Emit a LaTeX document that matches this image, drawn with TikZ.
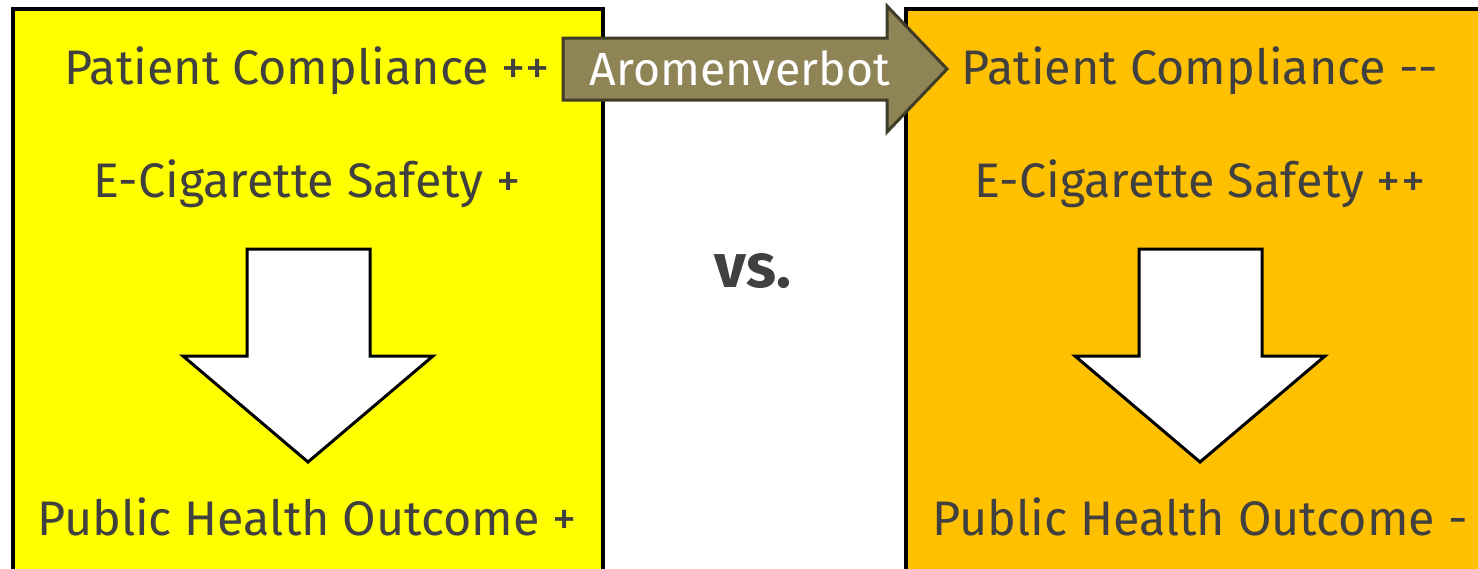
\documentclass[tikz,border=0pt]{standalone}
\usepackage{fontspec}
\setmainfont{Fira Sans}
\definecolor{txt}{HTML}{404040}
\definecolor{boxyellow}{HTML}{FFFF00}
\definecolor{boxorange}{HTML}{FFC000}
\definecolor{olive}{HTML}{8F8455}
\definecolor{olivedark}{HTML}{403C28}
\tikzset{
  panel/.style={draw=black,line width=3.5pt},
  label/.style={text=txt,font=\fontsize{48.5}{52}\selectfont,inner sep=0pt,anchor=base},
  downarrow/.style={draw=black,line width=3pt,fill=white,line join=miter},
}
\begin{document}
\begin{tikzpicture}[x=1pt,y=-1pt]
\useasboundingbox (0,0) rectangle (1478,568);
\clip (0,0) rectangle (1478,568);
\fill[white] (0,0) rectangle (1478,568);
% panels
\draw[panel,fill=boxyellow] (13,9) rectangle (603,600);
\draw[panel,fill=boxorange] (906,9) rectangle (1500,600);
% down arrows
\draw[downarrow] (247,249) -- (370,249) -- (370,356) -- (433,356) -- (308,462) -- (183,356) -- (247,356) -- cycle;
\draw[downarrow] (1139,249) -- (1262,249) -- (1262,356) -- (1325,356) -- (1200,462) -- (1075,356) -- (1139,356) -- cycle;
% texts left
\node[label] (pcl) at (307,84) {Patient Compliance ++};
\node[label] (escl) at (307,197) {E-Cigarette Safety +};
\node[label] (phol) at (307,535) {Public Health Outcome +};
% texts right
\node[label] (pcr) at (1200,84) {Patient Compliance {-}{-}};
\node[label] (escr) at (1200,197) {E-Cigarette Safety ++};
\node[label] (phor) at (1200,535) {Public Health Outcome -};
% vs
\node[label,font=\fontsize{62}{66}\selectfont\bfseries] (vs) at (753,287) {vs.};
% block arrow
\draw[fill=olive,draw=olivedark,line width=3pt,line join=miter] (563,38) -- (887,38) -- (887,6) -- (947,69) -- (887,132) -- (887,100) -- (563,100) -- cycle;
\node[text=white,font=\fontsize{46.5}{50}\selectfont,inner sep=0pt,anchor=base] (arom) at (740,85) {Aromenverbot};
\end{tikzpicture}
\end{document}
